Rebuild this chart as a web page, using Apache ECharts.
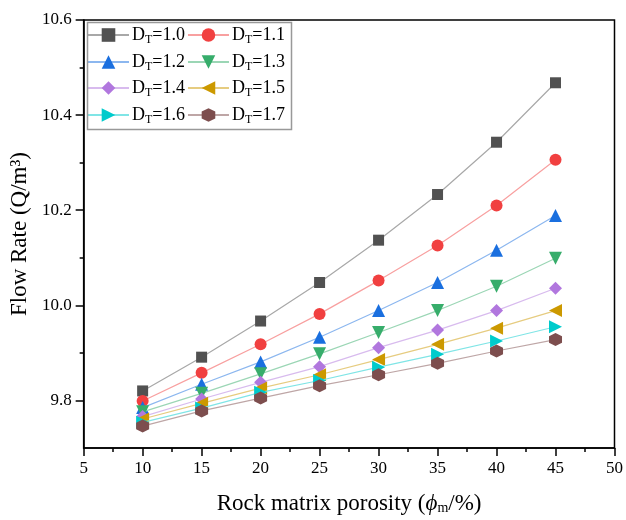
<!DOCTYPE html>
<html><head><meta charset="utf-8">
<script src="https://cdn.jsdelivr.net/npm/echarts@6/dist/echarts.min.js"></script>
<style>html,body{margin:0;padding:0;background:#fff}#c{width:626px;height:520px}</style>
</head><body><div id="c"></div>
<script>
const porosity = [10, 15, 20, 25, 30, 35, 40, 45];
const seriesNames = ['1.0','1.1','1.2','1.3','1.4','1.5','1.6','1.7'];
const dt10 = [9.820, 9.891, 9.967, 10.048, 10.137, 10.233, 10.343, 10.468];
const dt11 = [9.799, 9.858, 9.918, 9.982, 10.052, 10.126, 10.210, 10.306];
const dt12 = [9.785, 9.834, 9.881, 9.933, 9.989, 10.048, 10.116, 10.189];
const dt13 = [9.776, 9.815, 9.856, 9.898, 9.943, 9.989, 10.040, 10.099];
const dt14 = [9.766, 9.803, 9.838, 9.871, 9.911, 9.948, 9.989, 10.036];
const dt15 = [9.761, 9.794, 9.826, 9.854, 9.886, 9.918, 9.952, 9.989];
const dt16 = [9.754, 9.784, 9.817, 9.842, 9.870, 9.897, 9.925, 9.955];
const dt17 = [9.746, 9.778, 9.805, 9.831, 9.854, 9.878, 9.904, 9.928];
const yLabelValues = [9.8, 10.0, 10.2, 10.4, 10.6];
const yMinorValues = [9.9, 10.1, 10.3, 10.5];

const allData = [dt10, dt11, dt12, dt13, dt14, dt15, dt16, dt17];
const markerColors = ['#515151','#F14040','#1A6FDF','#37AD6B','#B177DE','#CC9900','#00CBCC','#7D4E4E'];
const lineColors = ['#a8a8a8','#f8a0a0','#8cb7ef','#9bd6b5','#d8bbee','#e6cc80','#80e5e6','#bea6a6'];
const symbols = [
  'rect','circle','triangle',
  'path://M0,0 L10,0 L5,8.66 Z',
  'diamond',
  'path://M0,5 L8.66,0 L8.66,10 Z',
  'path://M0,0 L8.66,5 L0,10 Z',
  'path://M5,0 L9.33,2.5 L9.33,7.5 L5,10 L0.67,7.5 L0.67,2.5 Z'
];
const symSizes = [11, 12, 13, 13, 13, 13, 13, 13];
const FONT = '"Liberation Serif","Times New Roman",serif';

const series = allData.map((d, i) => ({
  name: 'DT=' + seriesNames[i],
  type: 'line',
  data: porosity.map((x, j) => [x, d[j]]),
  symbol: symbols[i],
  symbolSize: symSizes[i],
  showAllSymbol: true,
  lineStyle: { color: lineColors[i], width: 1.2 },
  itemStyle: { color: markerColors[i] },
  emphasis: { disabled: true },
  z: 3 + i
}));

const legendRich = {
  sub: { fontSize: 12, fontFamily: FONT, color: '#000', verticalAlign: 'bottom', padding: [9, 0, 0, 0] }
};
const legendTops = [26, 53, 79, 106];
const legends = legendTops.map((t, r) => ({
  show: true,
  orient: 'horizontal',
  left: 87,
  top: t,
  itemWidth: 41,
  itemHeight: 17,
  itemGap: 2,
  padding: 0,
  data: [series[2*r].name, series[2*r+1].name],
  formatter: n => 'D{sub|T}=' + n.slice(3),
  textStyle: { fontFamily: FONT, fontSize: 18, color: '#000', padding: [0,0,0,-2], rich: legendRich },
  selectedMode: false
}));

const chart = echarts.init(document.getElementById('c'), null, { renderer: 'canvas' });
chart.setOption({
  animation: false,
  backgroundColor: '#fff',
  grid: { left: 83, right: 9, top: 20, bottom: 70, show: true, borderColor: '#000', borderWidth: 1.5, backgroundColor: 'transparent' },
  legend: legends,
  graphic: [{
    type: 'rect', left: 85, top: 20, z: 50,
    shape: { width: 204, height: 107 },
    style: { fill: 'none', stroke: '#999', lineWidth: 1.5 },
    silent: true
  }],
  xAxis: {
    type: 'value', min: 5, max: 50, interval: 5,
    name: '{n|Rock matrix porosity (}{i|ϕ}{sub|m}{n|/%)}',
    nameLocation: 'middle', nameGap: 44,
    nameTextStyle: { rich: {
      n: { fontFamily: FONT, fontSize: 23, color: '#000' },
      i: { fontFamily: FONT, fontSize: 23, color: '#000', fontStyle: 'italic' },
      sub: { fontFamily: FONT, fontSize: 14, color: '#000', verticalAlign: 'bottom', padding: [9,0,0,0] }
    } },
    axisLine: { show: true, onZero: false, lineStyle: { color: '#000', width: 1.5 } },
    axisTick: { show: true, inside: false, length: 8, lineStyle: { color: '#000', width: 1.5 } },
    minorTick: { show: true, splitNumber: 2, length: 4, lineStyle: { color: '#000', width: 1.5 } },
    splitLine: { show: false },
    axisLabel: { fontFamily: FONT, fontSize: 17, color: '#000', margin: 12 }
  },
  yAxis: [{
    type: 'value', min: 9.7, max: 10.6, interval: 0.1,
    name: 'Flow Rate (Q/m³)',
    nameLocation: 'middle', nameGap: 45,
    nameTextStyle: { fontFamily: FONT, fontSize: 23, color: '#000' },
    axisLine: { show: true, onZero: false, lineStyle: { color: '#000', width: 1.5 } },
    axisTick: { show: true, inside: false, length: 8, customValues: yLabelValues, lineStyle: { color: '#000', width: 1.5 } },
    splitLine: { show: false },
    axisLabel: { fontFamily: FONT, fontSize: 17, color: '#000', margin: 12, customValues: yLabelValues, formatter: v => v.toFixed(1) }
  }, {
    type: 'value', min: 9.7, max: 10.6, interval: 0.1, position: 'left', offset: 0,
    axisLine: { show: false },
    axisTick: { show: true, inside: false, length: 4, customValues: yMinorValues, lineStyle: { color: '#000', width: 1.5 } },
    axisLabel: { show: false },
    splitLine: { show: false }
  }],
  series: series
});
</script></body></html>
